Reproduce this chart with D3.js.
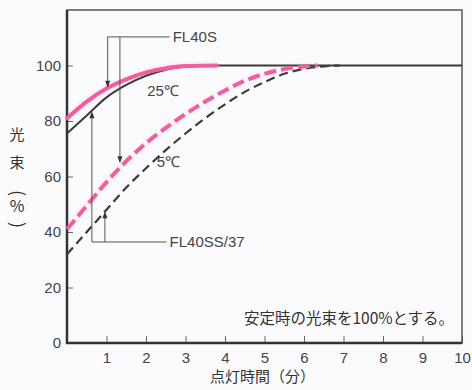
<!DOCTYPE html>
<html>
<head>
<meta charset="utf-8">
<script src="https://cdn.jsdelivr.net/npm/d3@7"></script>
<style>
  body { margin: 0; background: #fbfbfd; }
  svg { display: block; }
  .tick text { font-family: "Liberation Sans", Arial, sans-serif; fill: #444; }
  .jp { font-family: "Noto Sans CJK JP", sans-serif; fill: #333; }
</style>
</head>
<body>
<svg id="chart"></svg>
<script>
// values (time in minutes, flux in %)
const xTicks = [1, 2, 3, 4, 5, 6, 7, 8, 9, 10];
const yTicks = [0, 20, 40, 60, 80, 100];

const timeS25 = [0, 0.5, 1, 1.5, 2, 2.5, 3, 3.8];
const fluxS25 = [81, 87, 91.7, 95, 97.5, 99, 99.8, 100];

const timeSS25 = [0, 0.5, 1, 1.5, 2, 2.5, 3, 3.5, 10];
const fluxSS25 = [75.5, 82, 88.5, 93, 96.3, 98.5, 99.6, 100, 100];

const timeS5 = [0, 0.5, 1, 1.5, 2, 2.5, 3, 3.5, 4, 4.5, 5, 5.5, 6, 6.35];
const fluxS5 = [41, 49.5, 58, 65.5, 72, 77.5, 82.5, 87, 91, 94.5, 97, 98.7, 99.6, 100];

const timeSS5 = [0, 0.5, 1, 1.5, 2, 2.5, 3, 3.5, 4, 4.5, 5, 5.5, 6, 6.5, 6.9];
const fluxSS5 = [32, 40, 48, 56, 63, 69.5, 75.5, 81, 86, 90.5, 94, 97, 98.8, 99.7, 100];

const width = 472, height = 390;
const margin = { top: 10, right: 10, bottom: 47, left: 67 };

const svg = d3.select("#chart")
  .attr("width", width)
  .attr("height", height);

const x = d3.scaleLinear().domain([0, 10]).range([margin.left, width - margin.right]);
const y = d3.scaleLinear().domain([0, 120]).range([height - margin.bottom, margin.top]);

const zip = (xs, ys) => xs.map((t, i) => ({ t: t, v: ys[i] }));

// axes (ticks point inward)
svg.append("g")
  .attr("transform", "translate(0," + y(0) + ")")
  .call(d3.axisBottom(x).tickValues(xTicks).tickSizeInner(-7).tickSizeOuter(0).tickPadding(9))
  .call(g => g.select(".domain").remove())
  .call(g => g.selectAll(".tick line").attr("stroke", "#666"))
  .call(g => g.selectAll(".tick text").style("font-size", "15px"));

svg.append("g")
  .attr("transform", "translate(" + x(0) + ",0)")
  .call(d3.axisLeft(y).tickValues(yTicks).tickSizeInner(-6).tickSizeOuter(0).tickPadding(6))
  .call(g => g.select(".domain").remove())
  .call(g => g.selectAll(".tick line").attr("stroke", "#666"))
  .call(g => g.selectAll(".tick text").style("font-size", "15px"));

// frame
svg.append("rect")
  .attr("x", x(0)).attr("y", y(120))
  .attr("width", x(10) - x(0)).attr("height", y(0) - y(120))
  .attr("fill", "none")
  .attr("stroke", "#555")
  .attr("stroke-width", 1.5);

svg.append("path")
  .attr("d", "M" + x(0) + "," + y(120) + "V" + y(0) + "H" + x(10))
  .attr("fill", "none")
  .attr("stroke", "#333")
  .attr("stroke-width", 2.5);

// curves
const line = d3.line().x(d => x(d.t)).y(d => y(d.v)).curve(d3.curveMonotoneX);

const dark = "#3b3b3b", pink = "#ef5f9f";

svg.append("path").datum(zip(timeSS25, fluxSS25))
  .attr("d", line).attr("fill", "none")
  .attr("stroke", dark).attr("stroke-width", 2);

svg.append("path").datum(zip(timeSS5, fluxSS5))
  .attr("d", line).attr("fill", "none")
  .attr("stroke", dark).attr("stroke-width", 2.2)
  .attr("stroke-dasharray", "9,5");

// faint halo round the pink curves
svg.append("path").datum(zip(timeS25, fluxS25))
  .attr("d", line).attr("fill", "none")
  .attr("stroke", pink).attr("stroke-opacity", 0.06).attr("stroke-width", 9);

svg.append("path").datum(zip(timeS25, fluxS25))
  .attr("d", line).attr("fill", "none")
  .attr("stroke", pink).attr("stroke-width", 4)
  .attr("stroke-linecap", "round");

svg.append("path").datum(zip(timeS5, fluxS5))
  .attr("d", line).attr("fill", "none")
  .attr("stroke", pink).attr("stroke-opacity", 0.05).attr("stroke-width", 9);

svg.append("path").datum(zip(timeS5, fluxS5))
  .attr("d", line).attr("fill", "none")
  .attr("stroke", pink).attr("stroke-width", 4)
  .attr("stroke-dasharray", "12,5");

// leader lines with arrows
const leaders = [
  { name: "FL40S", ly: 110.3, lx: 2.6, drops: [[1.03, 92], [1.34, 64.8]] },
  { name: "FL40SS/37", ly: 36.4, lx: 2.52, drops: [[0.63, 83.5], [0.96, 47.5]] }
];

leaders.forEach(l => {
  const xs = l.drops.map(d => d[0]);
  svg.append("line")
    .attr("x1", x(d3.min(xs))).attr("x2", x(l.lx))
    .attr("y1", y(l.ly)).attr("y2", y(l.ly))
    .attr("stroke", "#555").attr("stroke-width", 1);

  l.drops.forEach(d => {
    const tipY = y(d[1]);
    const dir = tipY > y(l.ly) ? -1 : 1; // head points at the curve
    svg.append("line")
      .attr("x1", x(d[0])).attr("x2", x(d[0]))
      .attr("y1", y(l.ly)).attr("y2", tipY + dir * 5)
      .attr("stroke", "#555").attr("stroke-width", 1);
    svg.append("path")
      .attr("d", "M" + x(d[0]) + "," + tipY +
        "L" + (x(d[0]) - 2.5) + "," + (tipY + dir * 7) +
        "L" + (x(d[0]) + 2.5) + "," + (tipY + dir * 7) + "Z")
      .attr("fill", "#333");
  });

  svg.append("text")
    .attr("x", x(l.lx) + 3).attr("y", y(l.ly))
    .attr("dy", "0.36em")
    .style("font-family", "'Liberation Sans', Arial, sans-serif")
    .style("font-size", "15px")
    .style("fill", "#444")
    .text(l.name);
});

// temperature labels
const tempLabels = [
  { text: "25℃", t: 2.03, v: 91 },
  { text: "5℃", t: 2.27, v: 65.5 }
];
svg.selectAll(".temp").data(tempLabels).enter()
  .append("text")
  .classed("temp", true)
  .attr("x", d => x(d.t)).attr("y", d => y(d.v))
  .attr("dy", "0.36em")
  .style("font-family", "'Liberation Sans', Arial, sans-serif")
  .style("font-size", "15px")
  .style("fill", "#444")
  .text(d => d.text);

// note
svg.append("text")
  .attr("class", "jp")
  .attr("x", x(9.8)).attr("y", y(9))
  .attr("dy", "0.36em")
  .style("text-anchor", "end")
  .style("font-size", "15.5px")
  .text("安定時の光束を100%とする。");

// axis titles
svg.append("text")
  .attr("class", "jp")
  .attr("x", (x(0) + x(10)) / 2 - 2).attr("y", height - 8)
  .style("text-anchor", "middle")
  .style("font-size", "15px")
  .text("点灯時間（分）");

// vertical y title, parentheses turned a quarter
const yTitle = svg.append("g").attr("class", "jp").style("font-size", "15px");
yTitle.append("text").attr("x", 17).attr("y", 140).style("text-anchor", "middle").text("光");
yTitle.append("text").attr("x", 17).attr("y", 168).style("text-anchor", "middle").text("束");
yTitle.append("text").attr("transform", "translate(17,193) rotate(90)")
  .attr("dy", "0.35em").style("text-anchor", "middle").style("font-size", "18px").text("(");
yTitle.append("text").attr("x", 17).attr("y", 212).style("text-anchor", "middle").style("font-size", "16px").text("%");
yTitle.append("text").attr("transform", "translate(17,225) rotate(90)")
  .attr("dy", "0.35em").style("text-anchor", "middle").style("font-size", "18px").text(")");
</script>
</body>
</html>
